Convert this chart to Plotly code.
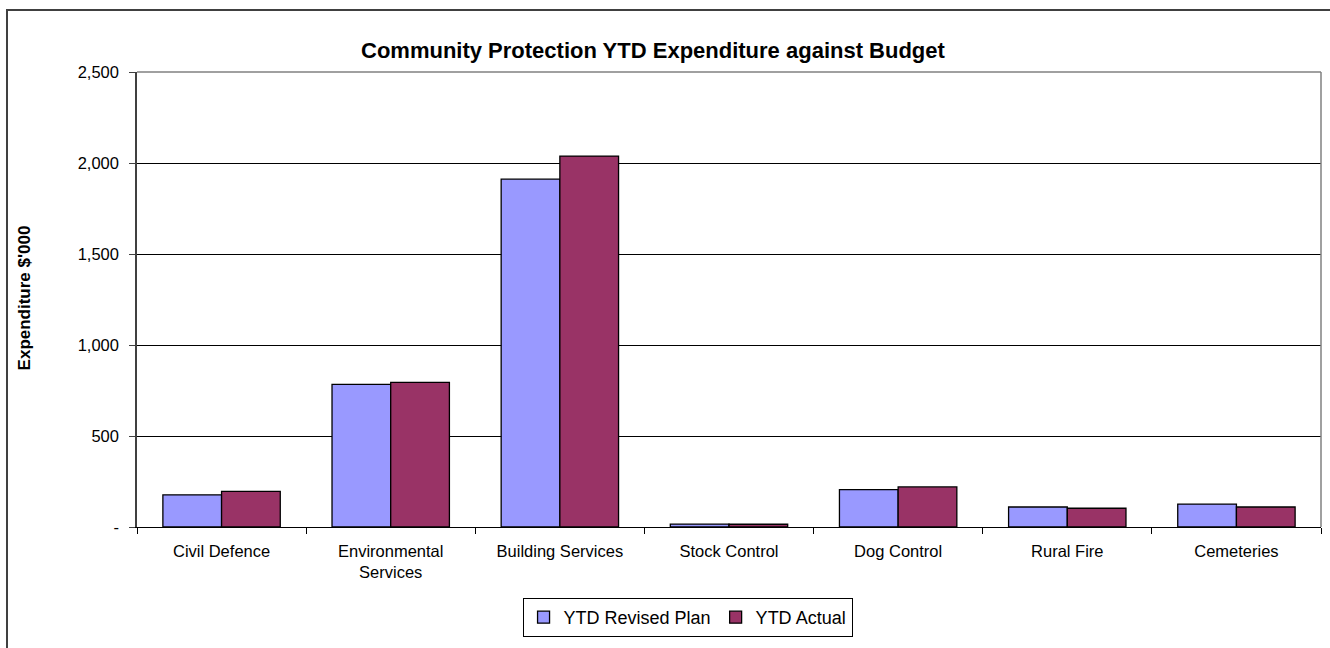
import plotly.graph_objects as go

categories = ["Civil Defence", "Environmental<br>Services", "Building Services",
              "Stock Control", "Dog Control", "Rural Fire", "Cemeteries"]
ytd_revised_plan = [177, 784, 1911, 16, 205, 110, 126]
ytd_actual = [196, 795, 2038, 15, 220, 103, 110]

y_ticks = [0, 500, 1000, 1500, 2000, 2500]
y_tick_labels = ["-", "500", "1,000", "1,500", "2,000", "2,500"]

FONT = "Liberation Sans, Arial, sans-serif"

fig = go.Figure()
fig.add_trace(go.Bar(
    name="YTD Revised Plan", x=categories, y=ytd_revised_plan,
    marker=dict(color="#9999FF", line=dict(color="#000000", width=1.3)),
))
fig.add_trace(go.Bar(
    name="YTD Actual", x=categories, y=ytd_actual,
    marker=dict(color="#993366", line=dict(color="#000000", width=1.3)),
))

fig.update_layout(
    width=1330, height=648,
    margin=dict(l=137, r=9, t=72, b=121, autoexpand=False),
    paper_bgcolor="white", plot_bgcolor="white",
    barmode="group", bargap=0.306, bargroupgap=0,
    font=dict(family=FONT, size=16.5, color="#000000"),
    showlegend=True,
    legend=dict(
        orientation="h", x=0.465, y=-0.156, xanchor="center", yanchor="top",
        bordercolor="#000000", borderwidth=1, bgcolor="white",
        font=dict(family=FONT, size=18), itemwidth=30, tracegroupgap=0,
    ),
    xaxis=dict(
        showline=True, linecolor="#000000", linewidth=1,
        ticks="outside", tickson="boundaries", ticklen=6, tickcolor="#000000",
        showgrid=False, ticklabelstandoff=9,
        tickfont=dict(family=FONT, size=16.5),
    ),
    yaxis=dict(
        range=[0, 2500], tickvals=y_ticks, ticktext=y_tick_labels,
        showline=True, linecolor="#404040", linewidth=1.5,
        ticks="outside", ticklen=6, tickcolor="#404040",
        showgrid=True, gridcolor="#000000", gridwidth=1,
        zeroline=False, ticklabelstandoff=7,
        tickfont=dict(family=FONT, size=16.5),
    ),
    annotations=[
        dict(text="<b>Community Protection YTD Expenditure against Budget</b>",
             xref="paper", yref="paper", x=0.4362, y=1.048,
             xanchor="center", yanchor="middle", showarrow=False,
             font=dict(family=FONT, size=22)),
        dict(text="<b>Expenditure $'000</b>", textangle=-90,
             xref="paper", yref="paper", x=-0.0952, y=0.503,
             xanchor="center", yanchor="middle", showarrow=False,
             font=dict(family=FONT, size=17)),
    ],
    shapes=[
        # plot-area border on top and right
        dict(type="line", xref="paper", yref="paper", x0=0, x1=1, y0=1, y1=1,
             line=dict(color="#808080", width=1.5), layer="above"),
        dict(type="line", xref="paper", yref="paper", x0=1, x1=1, y0=0, y1=1,
             line=dict(color="#808080", width=1.5), layer="above"),
        # chart frame
        dict(type="rect", xref="paper", yref="paper",
             x0=-0.1098, x1=1.02, y0=-0.30, y1=1.136,
             line=dict(color="#404040", width=2), layer="below"),
    ],
)

fig.write_html("out.html")
